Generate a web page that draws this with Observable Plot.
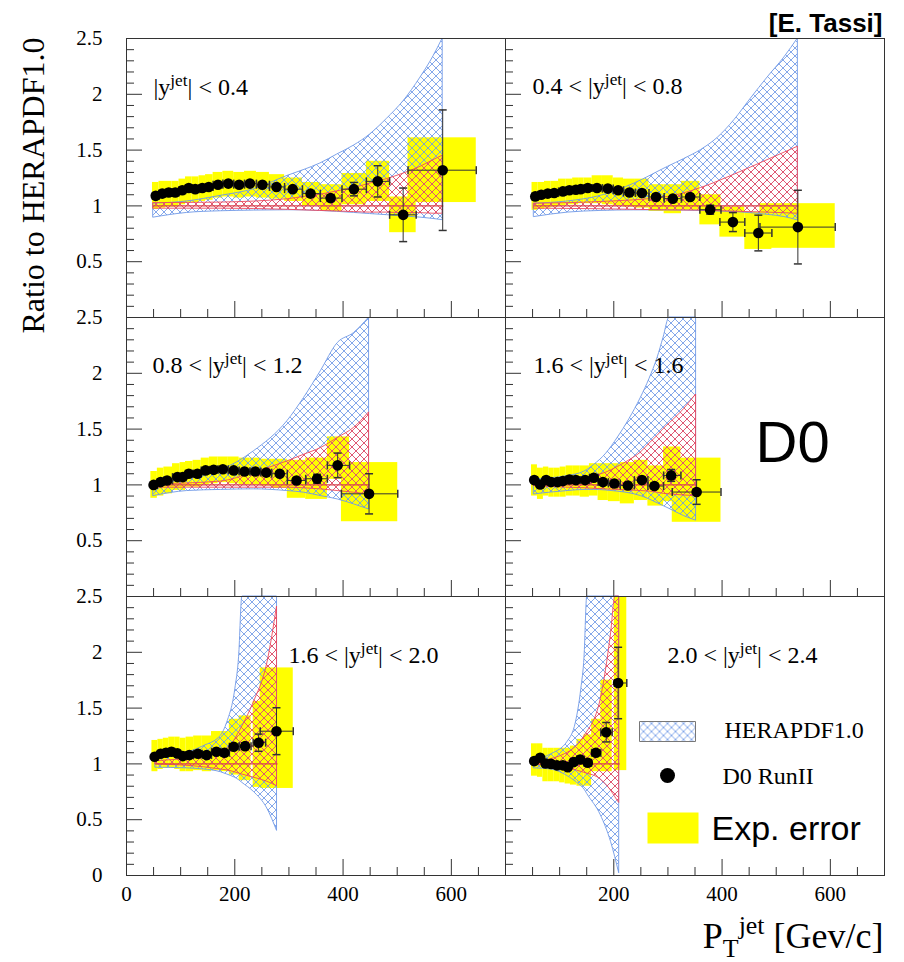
<!DOCTYPE html>
<html><head><meta charset="utf-8">
<script src="https://cdn.jsdelivr.net/npm/d3@7"></script>
<script src="https://cdn.jsdelivr.net/npm/@observablehq/plot@0.6"></script>
<style>
html,body{margin:0;padding:0;background:#fff;}
#chart{width:904px;height:962px;}
</style></head><body><div id="chart"></div>
<script>
// ---------- DATA ----------
// Panel 1: |y| < 0.4
const p1_pt    = [54, 66, 78, 90, 103, 115, 127, 140, 152, 169, 188, 208, 228, 251, 277, 307, 340, 377, 420, 464, 511, 584];
const p1_ratio = [1.09, 1.11, 1.12, 1.12, 1.14, 1.16, 1.15, 1.16, 1.17, 1.19, 1.20, 1.19, 1.20, 1.19, 1.17, 1.15, 1.11, 1.07, 1.15, 1.22, 0.92, 1.32];
const p1_stat  = [0.01,0.01,0.01,0.01,0.01,0.01,0.01,0.01,0.01,0.01,0.01,0.01,0.012,0.015,0.015,0.02,0.025,0.03,0.06,0.14,0.24,0.54];
const p1_xlo   = [48, 60, 72, 84, 97, 109, 121, 134, 146, 160, 178, 198, 218, 240, 264, 292, 325, 358, 398, 443, 486, 520];
const p1_xhi   = [60, 72, 84, 97, 109, 121, 134, 146, 160, 178, 198, 218, 240, 264, 292, 325, 358, 398, 443, 486, 535, 646];
const p1_syslo = [0.97,0.98,0.99,0.99,1.01,1.03,1.03,1.04,1.05,1.07,1.08,1.07,1.08,1.07,1.06,1.04,1.00,0.95,1.01,1.04,0.76,1.03];
const p1_syshi = [1.21,1.22,1.22,1.22,1.24,1.26,1.26,1.27,1.28,1.30,1.31,1.30,1.31,1.30,1.28,1.25,1.21,1.19,1.29,1.40,1.08,1.61];
const p1_bpt = [50, 112, 174, 236, 298, 327, 358, 389, 420, 450, 481, 512, 543, 567, 584];
const p1_blo = [0.895,0.937,0.952,0.958,0.961,0.96,0.955,0.947,0.937,0.927,0.917,0.906,0.895,0.883,0.872];
const p1_bhi = [1.02,1.04,1.09,1.15,1.27,1.32,1.38,1.46,1.54,1.64,1.78,1.94,2.15,2.34,2.5];
const p1_rpt = [50, 174, 298, 327, 358, 389, 420, 450, 481, 512, 543, 567, 584];
const p1_rlo = [0.975,0.975,0.965,0.96,0.955,0.95,0.945,0.94,0.94,0.935,0.935,0.93,0.93];
const p1_rhi = [1.025,1.03,1.06,1.08,1.10,1.13,1.16,1.20,1.24,1.29,1.35,1.41,1.45];

// Panel 2: 0.4 < |y| < 0.8
const p2_pt    = [55, 66, 78, 90, 106, 118, 130, 139, 152, 169, 189, 208, 229, 252, 278, 309, 341, 378, 420, 467, 540];
const p2_ratio = [1.085,1.10,1.11,1.115,1.13,1.14,1.145,1.15,1.16,1.16,1.155,1.14,1.12,1.115,1.08,1.065,1.08,0.966,0.855,0.757,0.81];
const p2_stat  = [0.01,0.01,0.01,0.01,0.01,0.01,0.01,0.01,0.01,0.01,0.01,0.01,0.012,0.013,0.015,0.02,0.025,0.04,0.085,0.16,0.33];
const p2_xlo   = [49, 60, 72, 84, 98, 112, 124, 135, 145, 160, 179, 199, 218, 240, 265, 293, 325, 359, 396, 442, 470];
const p2_xhi   = [60, 72, 84, 98, 112, 124, 135, 145, 160, 179, 199, 218, 240, 265, 293, 325, 359, 398, 442, 492, 609];
const p2_syslo = [0.96,0.97,0.98,0.99,1.00,1.01,1.01,1.02,1.02,1.02,1.01,1.00,0.99,0.98,0.95,0.93,0.96,0.83,0.72,0.61,0.62];
const p2_syshi = [1.21,1.21,1.22,1.22,1.24,1.24,1.25,1.25,1.25,1.27,1.27,1.25,1.24,1.24,1.19,1.19,1.22,1.10,0.99,0.94,1.02];
const p2_bpt = [53, 115, 176, 238, 300, 330, 361, 392, 423, 453, 484, 515, 540];
const p2_blo = [0.90,0.94,0.955,0.96,0.96,0.958,0.955,0.95,0.945,0.935,0.92,0.90,0.87];
const p2_bhi = [1.02,1.04,1.09,1.20,1.35,1.42,1.50,1.61,1.77,1.96,2.15,2.33,2.5];
const p2_rpt = [53, 176, 300, 361, 423, 484, 540];
const p2_rlo = [0.975,0.97,0.96,0.958,0.948,0.94,0.93];
const p2_rhi = [1.02,1.035,1.08,1.16,1.28,1.41,1.53];

// Panel 3: 0.8 < |y| < 1.2
const p3_pt    = [50, 63, 75, 94, 104, 115, 131, 146, 161, 178, 198, 218, 238, 258, 283, 314, 352, 390, 448];
const p3_ratio = [1.00,1.025,1.04,1.07,1.07,1.10,1.10,1.13,1.135,1.14,1.13,1.12,1.12,1.11,1.10,1.04,1.055,1.175,0.92];
const p3_stat  = [0.01,0.01,0.01,0.01,0.01,0.01,0.01,0.01,0.01,0.01,0.01,0.01,0.01,0.012,0.015,0.02,0.04,0.11,0.18];
const p3_xlo   = [45, 57, 69, 85, 99, 109, 123, 138, 153, 169, 188, 208, 228, 248, 268, 297, 331, 371, 397];
const p3_xhi   = [57, 69, 85, 99, 109, 123, 138, 153, 169, 188, 208, 228, 248, 268, 297, 331, 371, 412, 501];
const p3_syslo = [0.88,0.90,0.92,0.95,0.95,0.98,0.98,1.00,1.01,1.02,1.01,1.00,1.00,0.99,0.97,0.88,0.87,1.05,0.67];
const p3_syshi = [1.12,1.15,1.16,1.19,1.20,1.21,1.22,1.24,1.25,1.25,1.25,1.24,1.24,1.23,1.23,1.22,1.24,1.43,1.20];
const p3_bpt = [50, 112, 174, 235, 297, 328, 359, 390, 420, 448];
const p3_blo = [0.90,0.945,0.955,0.96,0.945,0.93,0.90,0.87,0.826,0.78];
const p3_bhi = [1.02,1.06,1.13,1.30,1.57,1.78,2.02,2.27,2.36,2.5];
const p3_rpt = [50, 174, 235, 297, 328, 359, 390, 420, 448];
const p3_rlo = [0.975,0.975,0.975,0.975,0.97,0.96,0.945,0.93,0.915];
const p3_rhi = [1.005,1.03,1.11,1.21,1.27,1.33,1.42,1.51,1.65];

// Panel 4: labelled "1.6 < |y| < 1.6"
const p4_pt    = [53, 64, 75, 84, 96, 106, 118, 130, 147, 163, 180, 201, 226, 252, 275, 306, 353];
const p4_ratio = [1.043,1.004,1.043,1.025,1.025,1.034,1.049,1.043,1.043,1.064,1.025,1.013,0.995,1.043,0.99,1.085,0.936];
const p4_stat  = [0.01,0.01,0.01,0.01,0.01,0.01,0.01,0.01,0.01,0.01,0.01,0.01,0.015,0.02,0.025,0.053,0.11];
const p4_xlo   = [48, 59, 70, 80, 90, 101, 112, 124, 138, 155, 171, 190, 212, 238, 263, 292, 308];
const p4_xhi   = [59, 70, 80, 90, 101, 112, 124, 138, 155, 171, 190, 212, 238, 263, 292, 324, 398];
const p4_syslo = [0.90,0.87,0.90,0.89,0.89,0.89,0.90,0.90,0.89,0.90,0.86,0.85,0.83,0.86,0.81,0.85,0.665];
const p4_syshi = [1.18,1.15,1.16,1.15,1.15,1.16,1.17,1.17,1.17,1.19,1.19,1.19,1.20,1.22,1.17,1.34,1.24];
const p4_bpt = [53, 115, 146, 164, 186, 207, 229, 250, 266, 281, 292, 303, 330, 352];
const p4_blo = [0.915,0.945,0.955,0.955,0.95,0.94,0.925,0.90,0.87,0.835,0.81,0.785,0.72,0.68];
const p4_bhi = [1.05,1.08,1.12,1.18,1.28,1.42,1.59,1.78,1.95,2.14,2.32,2.5,2.5,2.5];
const p4_rpt = [53, 115, 146, 164, 186, 207, 229, 250, 266, 281, 292, 303, 330, 352];
const p4_rlo = [0.99,0.975,0.97,0.965,0.96,0.955,0.95,0.945,0.94,0.93,0.92,0.915,0.905,0.90];
const p4_rhi = [1.02,1.04,1.06,1.08,1.11,1.16,1.22,1.29,1.37,1.44,1.50,1.55,1.68,1.81];

// Panel 5: 1.6 < |y| < 2.0
const p5_pt    = [52, 63, 73, 83, 94, 104, 116, 132, 148, 166, 181, 198, 219, 244, 277];
const p5_ratio = [1.064,1.091,1.10,1.109,1.094,1.07,1.079,1.091,1.079,1.109,1.10,1.154,1.159,1.19,1.293];
const p5_stat  = [0.01,0.01,0.01,0.01,0.01,0.01,0.01,0.01,0.01,0.01,0.015,0.02,0.03,0.077,0.21];
const p5_xlo   = [47, 58, 68, 78, 89, 99, 110, 124, 140, 157, 174, 190, 208, 234, 247];
const p5_xhi   = [58, 68, 78, 89, 99, 110, 124, 140, 157, 174, 190, 208, 230, 257, 308];
const p5_syslo = [0.93,0.95,0.96,0.96,0.95,0.93,0.93,0.94,0.93,0.94,0.93,0.90,0.85,0.79,0.78];
const p5_syshi = [1.21,1.22,1.23,1.24,1.24,1.23,1.24,1.25,1.25,1.29,1.29,1.40,1.43,1.56,1.86];
const p5_bpt = [54, 112, 143, 174, 186, 201, 208, 214, 235, 260, 278];
const p5_blo = [0.966,0.96,0.95,0.926,0.905,0.875,0.854,0.83,0.75,0.60,0.40];
const p5_bhi = [1.046,1.10,1.16,1.25,1.37,1.67,1.96,2.5,2.5,2.5,2.5];
const p5_rpt = [54, 143, 174, 192, 210, 235, 260, 278];
const p5_rlo = [0.995,0.97,0.95,0.936,0.91,0.877,0.84,0.80];
const p5_rhi = [1.025,1.07,1.11,1.16,1.30,1.55,1.90,2.41];

// Panel 6: 2.0 < |y| < 2.4
const p6_pt    = [53, 64, 74, 84, 95, 106, 115, 126, 138, 152, 167, 186, 208];
const p6_ratio = [1.025,1.055,1.004,1.0,0.987,0.987,0.971,1.016,1.04,1.01,1.10,1.284,1.725];
const p6_stat  = [0.01,0.01,0.01,0.01,0.01,0.01,0.01,0.01,0.01,0.012,0.02,0.087,0.32];
const p6_xlo   = [48, 59, 69, 79, 90, 100, 110, 120, 132, 145, 159, 176, 201];
const p6_xhi   = [59, 69, 79, 90, 100, 110, 120, 132, 145, 159, 176, 197, 224];
const p6_syslo = [0.89,0.88,0.84,0.84,0.84,0.83,0.82,0.81,0.80,0.80,0.93,0.93,0.94];
const p6_syshi = [1.18,1.18,1.14,1.14,1.14,1.14,1.14,1.16,1.22,1.26,1.40,1.75,2.5];
const p6_bpt = [53, 84, 115, 130, 140, 146, 151, 176, 195, 210];
const p6_blo = [0.96,0.95,0.89,0.84,0.80,0.77,0.73,0.54,0.30,0.02];
const p6_bhi = [1.034,1.085,1.20,1.37,1.67,1.96,2.5,2.5,2.5,2.5];
const p6_rpt = [53, 115, 146, 176, 195, 203, 210];
const p6_rlo = [0.996,0.96,0.92,0.86,0.76,0.70,0.65];
const p6_rhi = [1.016,1.10,1.25,1.58,2.17,2.5,2.5];

const panelLabels = ["|y^{jet}| < 0.4", "0.4 < |y^{jet}| < 0.8", "0.8 < |y^{jet}| < 1.2",
                     "1.6 < |y^{jet}| < 1.6", "1.6 < |y^{jet}| < 2.0", "2.0 < |y^{jet}| < 2.4"];
const legendLabels = ["HERAPDF1.0", "D0 RunII", "Exp. error"];
const xMajorTicks = [200, 400, 600];
const xMinorTicks = [50, 100, 150, 250, 300, 350, 450, 500, 550, 650];
const yMajorTicks = [0.5, 1, 1.5, 2];
const yMinorTicks = [0.1,0.2,0.3,0.4,0.6,0.7,0.8,0.9,1.1,1.2,1.3,1.4,1.6,1.7,1.8,1.9,2.1,2.2,2.3,2.4];
const xTickLabelsLeft = [0, 200, 400, 600];
const xTickLabelsRight = [200, 400, 600];
const yTickLabels = [0.5, 1, 1.5, 2, 2.5];
const yTickLabelsBottom = [0, 0.5, 1, 1.5, 2, 2.5];

// ---------- LAYOUT / STYLE ----------
const W = 904, H = 962;
const M = {top: 38, right: 20, bottom: 87, left: 126};
const facetW = (W - M.left - M.right) / 2;
const facetH = (H - M.top - M.bottom) / 3;
const serif = "'Liberation Serif','Times New Roman',serif";
const sans = "'Liberation Sans',Arial,sans-serif";
const blueC = "#6f98e6", redC = "#ee4a5e", yellowC = "#ffff00", axisC = "#333";
const labelPos = [[27, 49], [27, 48], [26, 48], [28, 48], [162, 59], [162, 59]];

const panelDefs = [
  {fx:0, fy:0, pt:p1_pt, ratio:p1_ratio, stat:p1_stat, xlo:p1_xlo, xhi:p1_xhi, syslo:p1_syslo, syshi:p1_syshi, bpt:p1_bpt, blo:p1_blo, bhi:p1_bhi, rpt:p1_rpt, rlo:p1_rlo, rhi:p1_rhi},
  {fx:1, fy:0, pt:p2_pt, ratio:p2_ratio, stat:p2_stat, xlo:p2_xlo, xhi:p2_xhi, syslo:p2_syslo, syshi:p2_syshi, bpt:p2_bpt, blo:p2_blo, bhi:p2_bhi, rpt:p2_rpt, rlo:p2_rlo, rhi:p2_rhi},
  {fx:0, fy:1, pt:p3_pt, ratio:p3_ratio, stat:p3_stat, xlo:p3_xlo, xhi:p3_xhi, syslo:p3_syslo, syshi:p3_syshi, bpt:p3_bpt, blo:p3_blo, bhi:p3_bhi, rpt:p3_rpt, rlo:p3_rlo, rhi:p3_rhi},
  {fx:1, fy:1, pt:p4_pt, ratio:p4_ratio, stat:p4_stat, xlo:p4_xlo, xhi:p4_xhi, syslo:p4_syslo, syshi:p4_syshi, bpt:p4_bpt, blo:p4_blo, bhi:p4_bhi, rpt:p4_rpt, rlo:p4_rlo, rhi:p4_rhi},
  {fx:0, fy:2, pt:p5_pt, ratio:p5_ratio, stat:p5_stat, xlo:p5_xlo, xhi:p5_xhi, syslo:p5_syslo, syshi:p5_syshi, bpt:p5_bpt, blo:p5_blo, bhi:p5_bhi, rpt:p5_rpt, rlo:p5_rlo, rhi:p5_rhi},
  {fx:1, fy:2, pt:p6_pt, ratio:p6_ratio, stat:p6_stat, xlo:p6_xlo, xhi:p6_xhi, syslo:p6_syslo, syshi:p6_syshi, bpt:p6_bpt, blo:p6_blo, bhi:p6_bhi, rpt:p6_rpt, rlo:p6_rlo, rhi:p6_rhi}
];

const points = panelDefs.flatMap(p => p.pt.map((v, i) => ({fx:p.fx, fy:p.fy, pt:v, ratio:p.ratio[i], stat:p.stat[i],
  xlo:p.xlo[i], xhi:p.xhi[i], syslo:p.syslo[i], syshi:p.syshi[i]})));
const blueBand = panelDefs.flatMap(p => p.bpt.map((v, i) => ({fx:p.fx, fy:p.fy, pt:v, lo:p.blo[i], hi:p.bhi[i]})));
const redBand = panelDefs.flatMap(p => p.rpt.map((v, i) => ({fx:p.fx, fy:p.fy, pt:v, lo:p.rlo[i], hi:p.rhi[i]})));

const yLabelData = [0, 1, 2].flatMap(r => (r === 2 ? yTickLabelsBottom : yTickLabels).map(v => ({fx:0, fy:r, v})));
const xLabelData = [...xTickLabelsLeft.map(v => ({fx:0, fy:2, v})), ...xTickLabelsRight.map(v => ({fx:1, fy:2, v}))];

const hCap = {draw(ctx, size){ const r = Math.sqrt(size / Math.PI); ctx.moveTo(-r, 0); ctx.lineTo(r, 0); }};
const vCap = {draw(ctx, size){ const r = Math.sqrt(size / Math.PI); ctx.moveTo(0, -r); ctx.lineTo(0, r); }};
const rectSym = (w, h) => ({draw(ctx){ ctx.moveTo(-w/2, -h/2); ctx.lineTo(w/2, -h/2); ctx.lineTo(w/2, h/2); ctx.lineTo(-w/2, h/2); ctx.closePath(); }});

const F = {fx: "fx", fy: "fy"};
const one = (obj) => [Object.assign({fx: 0, fy: 0}, obj)];

const marks = [
  Plot.rect(points, {...F, x1: "xlo", x2: "xhi", y1: "syslo", y2: "syshi", fill: yellowC}),
  Plot.areaY(blueBand, {...F, x: "pt", y1: "lo", y2: "hi", fill: "url(#hatchBlue)", stroke: blueC, strokeWidth: 0.9, curve: "monotone-x"}),
  Plot.areaY(redBand, {...F, x: "pt", y1: "lo", y2: "hi", fill: "url(#hatchRed)", stroke: redC, strokeWidth: 0.9, curve: "monotone-x"}),
  Plot.line(redBand, {...F, x: "pt", y: () => 1, stroke: "#d8404c", strokeWidth: 1.4}),
  Plot.ruleX(points, {...F, x: "pt", y1: d => d.ratio - d.stat, y2: d => d.ratio + d.stat, stroke: axisC, strokeWidth: 1}),
  Plot.ruleY(points, {...F, y: "ratio", x1: "xlo", x2: "xhi", stroke: axisC, strokeWidth: 1}),
  Plot.dot(points, {...F, x: "pt", y: d => d.ratio + d.stat, symbol: hCap, r: 4, stroke: axisC, fill: "none"}),
  Plot.dot(points, {...F, x: "pt", y: d => d.ratio - d.stat, symbol: hCap, r: 4, stroke: axisC, fill: "none"}),
  Plot.dot(points, {...F, x: "xlo", y: "ratio", symbol: vCap, r: 4, stroke: axisC, fill: "none"}),
  Plot.dot(points, {...F, x: "xhi", y: "ratio", symbol: vCap, r: 4, stroke: axisC, fill: "none"}),
  Plot.dot(points, {...F, x: "pt", y: "ratio", r: 5.3, fill: "black", stroke: "none"}),
  Plot.frame({stroke: axisC, strokeWidth: 1}),
  Plot.tickX(xMajorTicks, {x: d => d, insetTop: facetH - 16, stroke: axisC}),
  Plot.tickX(xMinorTicks, {x: d => d, insetTop: facetH - 8, stroke: axisC}),
  Plot.tickY(yMajorTicks, {y: d => d, insetRight: facetW - 16, stroke: axisC}),
  Plot.tickY(yMinorTicks, {y: d => d, insetRight: facetW - 8, stroke: axisC}),
  Plot.text(yLabelData, {...F, y: "v", text: d => String(d.v), frameAnchor: "left", dx: -24, textAnchor: "end", lineAnchor: "middle", fontSize: 21}),
  Plot.text(xLabelData, {...F, x: "v", text: d => String(d.v), frameAnchor: "bottom", dy: 19, textAnchor: "middle", lineAnchor: "middle", fontSize: 21}),
  ...panelDefs.map((p, i) => Plot.text([{fx: p.fx, fy: p.fy, t: panelLabels[i]}], {...F, text: "t", frameAnchor: "top-left",
      dx: labelPos[i][0], dy: labelPos[i][1], textAnchor: "start", lineAnchor: "middle", fontSize: 24})),
  Plot.text(one({fx: 1, fy: 1, t: "D0"}), {...F, text: "t", frameAnchor: "top-left", dx: 250, dy: 126, textAnchor: "start",
      lineAnchor: "middle", fontFamily: sans, fontSize: 58}),
  Plot.text(one({fx: 0, fy: 0, t: "Ratio to HERAPDF1.0"}), {...F, text: "t", frameAnchor: "left", dx: -93, dy: 7.5, rotate: -90,
      textAnchor: "middle", lineAnchor: "middle", fontSize: 32}),
  Plot.text(one({fx: 1, fy: 0, t: "[E. Tassi]"}), {...F, text: "t", frameAnchor: "top-right", dx: -2, dy: -15, textAnchor: "end",
      lineAnchor: "middle", fontFamily: sans, fontWeight: "bold", fontSize: 26}),
  Plot.text(one({fx: 1, fy: 2, t: "P_{T}^{jet} [Gev/c]"}), {...F, text: "t", frameAnchor: "bottom-right", dx: -1, dy: 61,
      textAnchor: "end", lineAnchor: "middle", fontSize: 36}),
  // legend (bottom-right panel)
  Plot.dot(one({fx: 1, fy: 2}), {...F, frameAnchor: "top-left", dx: 162, dy: 135, symbol: rectSym(56, 20), fill: "url(#hatchBlue)", stroke: "#777", strokeWidth: 1}),
  Plot.dot(one({fx: 1, fy: 2}), {...F, frameAnchor: "top-left", dx: 162, dy: 179, r: 7.5, fill: "black", stroke: "none"}),
  Plot.dot(one({fx: 1, fy: 2}), {...F, frameAnchor: "top-left", dx: 167.5, dy: 231.5, symbol: rectSym(51, 31), fill: yellowC, stroke: "none"}),
  Plot.text(one({fx: 1, fy: 2, t: legendLabels[0]}), {...F, text: "t", frameAnchor: "top-left", dx: 219, dy: 134, textAnchor: "start", lineAnchor: "middle", fontSize: 24}),
  Plot.text(one({fx: 1, fy: 2, t: legendLabels[1]}), {...F, text: "t", frameAnchor: "top-left", dx: 217, dy: 180, textAnchor: "start", lineAnchor: "middle", fontSize: 24}),
  Plot.text(one({fx: 1, fy: 2, t: legendLabels[2]}), {...F, text: "t", frameAnchor: "top-left", dx: 206, dy: 233, textAnchor: "start", lineAnchor: "middle", fontFamily: sans, fontSize: 34})
];

const chart = Plot.plot({
  width: W, height: H,
  marginTop: M.top, marginRight: M.right, marginBottom: M.bottom, marginLeft: M.left,
  fx: {domain: [0, 1], padding: 0, axis: null, round: false},
  fy: {domain: [0, 1, 2], padding: 0, axis: null, round: false},
  x: {domain: [0, 700], axis: null},
  y: {domain: [0, 2.5], axis: null},
  style: {fontFamily: serif, background: "white", color: "black"},
  marks
});

// hatch patterns
const defs = d3.select(chart).insert("defs", ":first-child");
function addHatch(id, color) {
  const s = 8;
  const p = defs.append("pattern").attr("id", id).attr("patternUnits", "userSpaceOnUse").attr("width", s).attr("height", s);
  p.append("path")
    .attr("d", `M0,0L${s},${s}M${s},0L0,${s}M-1,${s-1}L1,${s+1}M${s-1},-1L${s+1},1M-1,1L1,-1M${s-1},${s+1}L${s+1},${s-1}`)
    .attr("stroke", color).attr("stroke-width", 0.85).attr("fill", "none");
}
addHatch("hatchBlue", blueC);
addHatch("hatchRed", redC);

document.getElementById("chart").append(chart);

// superscripts / subscripts written as ^{..} and _{..}
d3.select(chart).selectAll("text").each(function() {
  const t = this.textContent;
  if (!/[\^_]\{/.test(t)) return;
  const fs = parseFloat(getComputedStyle(this).fontSize) || 24;
  const parts = t.split(/(\^\{[^}]*\}|_\{[^}]*\})/).filter(s => s.length);
  const sel = d3.select(this);
  sel.text(null);
  let shift = 0;
  for (const part of parts) {
    let target = 0, size = null, txt = part;
    if (part.startsWith("^{")) { target = -0.38 * fs; size = 0.72 * fs; txt = part.slice(2, -1); }
    else if (part.startsWith("_{")) { target = 0.24 * fs; size = 0.72 * fs; txt = part.slice(2, -1); }
    const ts = sel.append("tspan").attr("dy", target - shift).text(txt);
    if (size) ts.attr("font-size", size);
    shift = target;
  }
});
</script>
</body></html>
